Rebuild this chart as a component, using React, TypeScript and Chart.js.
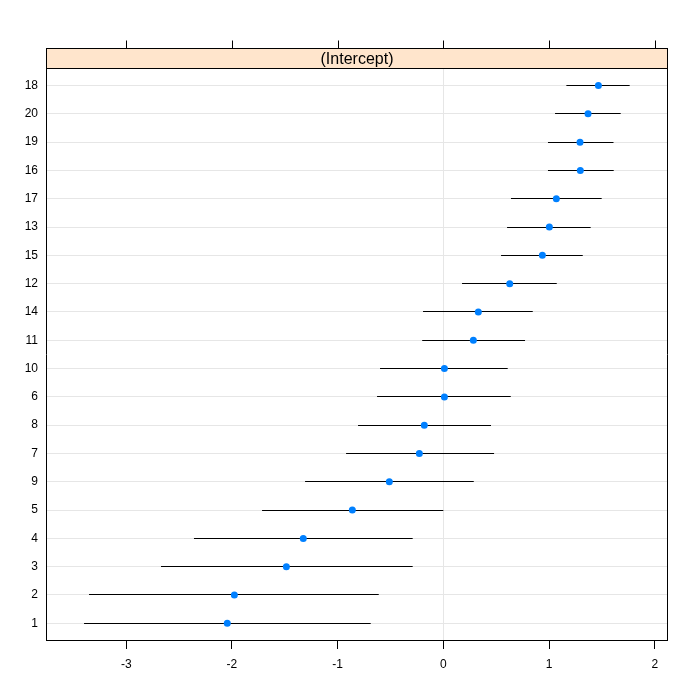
import React, { useEffect, useRef } from "react";
import { Chart, registerables } from "chart.js";

Chart.register(...registerables);

// Rows from bottom (index 1) to top (index 20)
const subjects = ["1", "2", "3", "4", "5", "9", "7", "8", "6", "10", "11", "14", "12", "15", "13", "17", "16", "19", "20", "18"];
const estimate = [-2.044, -1.977, -1.485, -1.325, -0.861, -0.511, -0.227, -0.18, 0.01, 0.01, 0.284, 0.331, 0.628, 0.937, 1.003, 1.069, 1.296, 1.293, 1.369, 1.467];
const lower = [-3.399, -3.352, -2.671, -2.359, -1.715, -1.308, -0.92, -0.807, -0.627, -0.599, -0.2, -0.192, 0.177, 0.546, 0.603, 0.64, 0.99, 0.99, 1.057, 1.164];
const upper = [-0.687, -0.611, -0.29, -0.29, 0.0, 0.288, 0.48, 0.451, 0.638, 0.609, 0.773, 0.846, 1.073, 1.319, 1.394, 1.498, 1.612, 1.61, 1.678, 1.763];
const xTicks = [-3, -2, -1, 0, 1, 2];
const stripLabel = "(Intercept)";

const FONT = "'Liberation Sans', Arial, sans-serif";

export default function App() {
  const ref = useRef<HTMLCanvasElement | null>(null);

  useEffect(() => {
    if (!ref.current) return;

    const points = estimate.map((v, i) => ({ x: v, y: i + 1 }));
    const bars: any[] = [];
    lower.forEach((lo, i) => {
      bars.push({ x: lo, y: i + 1 });
      bars.push({ x: upper[i], y: i + 1 });
      bars.push({ x: upper[i], y: null });
    });

    const crispPlugin = {
      id: "crispBars",
      beforeDatasetsDraw(chart: any) {
        const meta = chart.getDatasetMeta(1);
        meta.data.forEach((el: any) => {
          if (Number.isFinite(el.y)) el.y = Math.round(el.y - 0.5) + 0.5;
        });
      },
    };

    const panelPlugin = {
      id: "panelDecor",
      afterDraw(chart: any) {
        const { ctx, chartArea } = chart;
        const xs = chart.scales.x;
        const left = Math.round(chartArea.left) + 0.5;
        const right = Math.round(chartArea.right) + 0.5;
        const top = Math.round(chartArea.top) + 0.5;
        const stripTop = top - 20;
        ctx.save();
        // strip
        ctx.fillStyle = "#FFE5CC";
        ctx.fillRect(left, stripTop, right - left, top - stripTop);
        ctx.strokeStyle = "#000";
        ctx.lineWidth = 1;
        ctx.strokeRect(left, stripTop, right - left, top - stripTop);
        ctx.fillStyle = "#000";
        ctx.font = `16px ${FONT}`;
        ctx.textAlign = "center";
        ctx.textBaseline = "middle";
        ctx.fillText(stripLabel, (left + right) / 2, (stripTop + top) / 2 + 1);
        // panel border right
        ctx.beginPath();
        ctx.moveTo(right, top);
        ctx.lineTo(right, Math.round(chartArea.bottom) + 0.5);
        ctx.stroke();
        // top ticks
        xTicks.forEach((v) => {
          const px = Math.round(xs.getPixelForValue(v)) + 0.5;
          ctx.beginPath();
          ctx.moveTo(px, stripTop);
          ctx.lineTo(px, stripTop - 8);
          ctx.stroke();
        });
        ctx.restore();
      },
    };

    const chart = new Chart(ref.current, {
      type: "scatter",
      data: {
        datasets: [
          {
            type: "scatter",
            data: points,
            backgroundColor: "#0080FF",
            borderColor: "#0080FF",
            pointRadius: 3.5,
            pointHoverRadius: 3.5,
            borderWidth: 0,
            order: 0,
          } as any,
          {
            type: "line",
            data: bars,
            borderColor: "#000",
            borderWidth: 1,
            pointRadius: 0,
            spanGaps: false,
            fill: false,
            tension: 0,
            order: 1,
          } as any,
        ],
      },
      options: {
        responsive: false,
        animation: false,
        events: [],
        layout: { padding: { top: 68, right: 33, left: 0, bottom: 0 } },
        plugins: { legend: { display: false }, tooltip: { enabled: false } },
        scales: {
          x: {
            type: "linear",
            min: -3.759,
            max: 2.116,
            afterBuildTicks: (s: any) => {
              s.ticks = xTicks.map((v) => ({ value: v }));
            },
            afterFit: (s: any) => {
              s.height = 60;
            },
            grid: {
              color: (c: any) => (c.tick && c.tick.value === 0 ? "#E6E6E6" : "rgba(0,0,0,0)"),
              tickColor: "#000",
              tickLength: 9,
              lineWidth: 1,
              drawTicks: true,
            },
            border: { display: true, color: "#000", width: 1 },
            ticks: {
              color: "#000",
              font: { family: FONT, size: 12 },
              padding: 8,
              maxRotation: 0,
              autoSkip: false,
            },
          },
          y: {
            type: "linear",
            min: 0.41,
            max: 20.62,
            afterBuildTicks: (s: any) => {
              s.ticks = subjects.map((_, i) => ({ value: i + 1 }));
            },
            afterFit: (s: any) => {
              s.width = 46;
            },
            grid: { color: "#E6E6E6", drawTicks: false, lineWidth: 1 },
            border: { display: true, color: "#000", width: 1 },
            ticks: {
              color: "#000",
              font: { family: FONT, size: 12 },
              padding: 8,
              autoSkip: false,
              callback: (v: any) => subjects[Math.round(v) - 1] ?? "",
            },
          },
        },
      },
      plugins: [crispPlugin, panelPlugin],
    } as any);

    return () => chart.destroy();
  }, []);

  return (
    <div style={{ position: "absolute", left: 0, top: 0, width: 700, height: 700, background: "#fff" }}>
      <canvas ref={ref} width={700} height={700} style={{ width: 700, height: 700, display: "block" }} />
    </div>
  );
}
